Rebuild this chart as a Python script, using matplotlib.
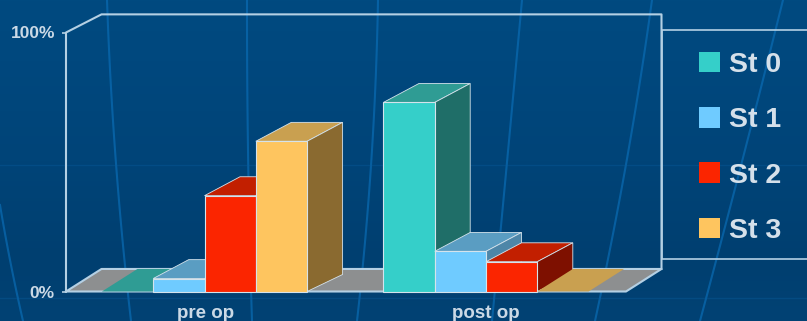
import numpy as np
import matplotlib
matplotlib.use("Agg")
import matplotlib.pyplot as plt
from matplotlib.patches import Polygon, Patch
from matplotlib.lines import Line2D

# Chart data
stages = ["St 0", "St 1", "St 2", "St 3"]
periods = ["pre op", "post op"]
pre_op = [0, 5, 37, 58]
post_op = [73, 15.5, 11.5, 0]

# Stage colours: front, top and side faces
front_colors = ["#35cfc9", "#6fcbff", "#fb2500", "#fec55f"]
top_colors = ["#2f9c94", "#5a9dc2", "#c21f00", "#c9a050"]
side_colors = ["#1f6e68", "#4d86a8", "#7e1000", "#8a6a30"]

W, H = 807, 321
plt.rcParams["font.family"] = ["Liberation Sans", "DejaVu Sans"]
fig = plt.figure(figsize=(W / 100, H / 100), dpi=100)

# Slide backdrop in pixel coordinates
bg = fig.add_axes([0, 0, 1, 1], zorder=0)
bg.set_xlim(0, W)
bg.set_ylim(H, 0)
bg.axis("off")
stops_y = [0, 60, 160, 260, 321]
stops_rgb = np.array([[0, 74, 128], [0, 72, 126], [0, 68, 120], [0, 63, 112], [2, 66, 116]]) / 255
rows = np.arange(H)
gradient = np.stack([np.interp(rows, stops_y, stops_rgb[:, i]) for i in range(3)], axis=1)[:, None, :]
bg.imshow(gradient, extent=[0, W, H, 0], aspect="auto", zorder=0)

# Curved streaks across the backdrop
streak = "#0a6cb4"
for xs, ys in [
    ([107, 115, 131], [0, 150, 321]),
    ([247, 248, 252], [0, 150, 321]),
    ([0, 10, 23], [205, 260, 321]),
    ([378, 372, 357], [0, 150, 321]),
    ([522, 510, 492], [0, 130, 321]),
    ([652, 625, 595], [0, 170, 321]),
    ([783, 745, 700], [0, 150, 321]),
]:
    t = np.linspace(ys[0], ys[-1], 60)
    bg.plot(np.polyval(np.polyfit(ys, xs, 2), t), t, color=streak, lw=1.5, alpha=0.7, zorder=1)
bg.plot([0, W], [165, 165], color="#0a5c9c", lw=1, alpha=0.4, zorder=1)
bg.plot([0, W], [298, 298], color="#0a5c9c", lw=1, alpha=0.4, zorder=1)

# Legend frame runs off the right edge
line_color = "#b4d0e4"
bg.plot([W, 662, 662, W], [30, 30, 259, 259], color=line_color, lw=1.2, zorder=2)

# Main axes cover the front plane of the 3D box
x0, x1, y0, y1 = 66, 626, 291.5, 32.5
ax = fig.add_axes([x0 / W, 1 - y0 / H, (x1 - x0) / W, (y0 - y1) / H], zorder=1)
ax.patch.set_alpha(0)
ax.set_xlim(0, 2)
ax.set_ylim(0, 100)
for s in ax.spines.values():
    s.set_visible(False)
ax.set_xticks([0.5, 1.5], periods)
ax.set_yticks([0, 100], ["0%", "100%"])
ax.tick_params(axis="both", labelcolor="#cbd9e6")
ax.tick_params(axis="y", length=3, width=1.2, color=line_color, pad=5, labelsize=12.5)
ax.tick_params(axis="x", length=0, pad=10, labelsize=13.5)
for lab in ax.get_xticklabels() + ax.get_yticklabels():
    lab.set_fontweight("bold")

# Oblique projection offsets, in data units
depth_x = 35.5 / 280
floor_dy = 8.7
top_dy = 7.0
bar_dy = 7.3
bar_w = 51.3 / 280
group_shift = [-1.5 / 280, 0.0]


def poly(pts, face, edge=None, lw=0.0, z=2):
    ax.add_patch(Polygon(pts, closed=True, facecolor=face, edgecolor=edge or face,
                         linewidth=lw, clip_on=False, zorder=z))


def wire(xs, ys, z=2):
    ax.add_line(Line2D(xs, ys, color=line_color, lw=1.5, clip_on=False, zorder=z))


# Floor and the wire outline of the box
poly([(0, 0), (2, 0), (2 + depth_x, floor_dy), (depth_x, floor_dy)], "#8d8f90")
wire([0, 0, depth_x, 2 + depth_x, 2 + depth_x], [0, 100, 100 + top_dy, 100 + top_dy, floor_dy])
wire([0, 2, 2 + depth_x, depth_x, 0], [0, 0, floor_dy, floor_dy, 0])

# Bars, left to right so each front face covers its neighbour's side
edge = "#d5e3ec"
z = 3
for g, values in enumerate([pre_op, post_op]):
    left = g + 0.5 - 2 * bar_w + group_shift[g]
    for i, v in enumerate(values):
        l, r = left + i * bar_w, left + (i + 1) * bar_w
        if v == 0:
            poly([(l, 0), (r, 0), (r + depth_x, floor_dy), (l + depth_x, floor_dy)], top_colors[i], z=z)
        else:
            poly([(l, v), (r, v), (r + depth_x, v + bar_dy), (l + depth_x, v + bar_dy)],
                 top_colors[i], edge, 0.6, z)
            poly([(r, 0), (r + depth_x, bar_dy * 0.9), (r + depth_x, v + bar_dy), (r, v)],
                 side_colors[i], edge, 0.6, z)
            poly([(l, 0), (r, 0), (r, v), (l, v)], front_colors[i], edge, 0.8, z + 0.5)
        z += 1

# Legend
handles = [Patch(facecolor=c, edgecolor=c, linewidth=0) for c in front_colors]
leg = fig.legend(handles, stages, loc="upper left",
                 bbox_to_anchor=(673.4 / W, 1 - 26 / H), bbox_transform=fig.transFigure,
                 frameon=False, prop={"family": "Liberation Sans", "weight": "bold", "size": 20.5},
                 handlelength=0.74, handleheight=0.74, handletextpad=0.3, labelspacing=1.02)
for t in leg.get_texts():
    t.set_color("#d5e0ea")

fig.savefig("out.png", dpi=100)
